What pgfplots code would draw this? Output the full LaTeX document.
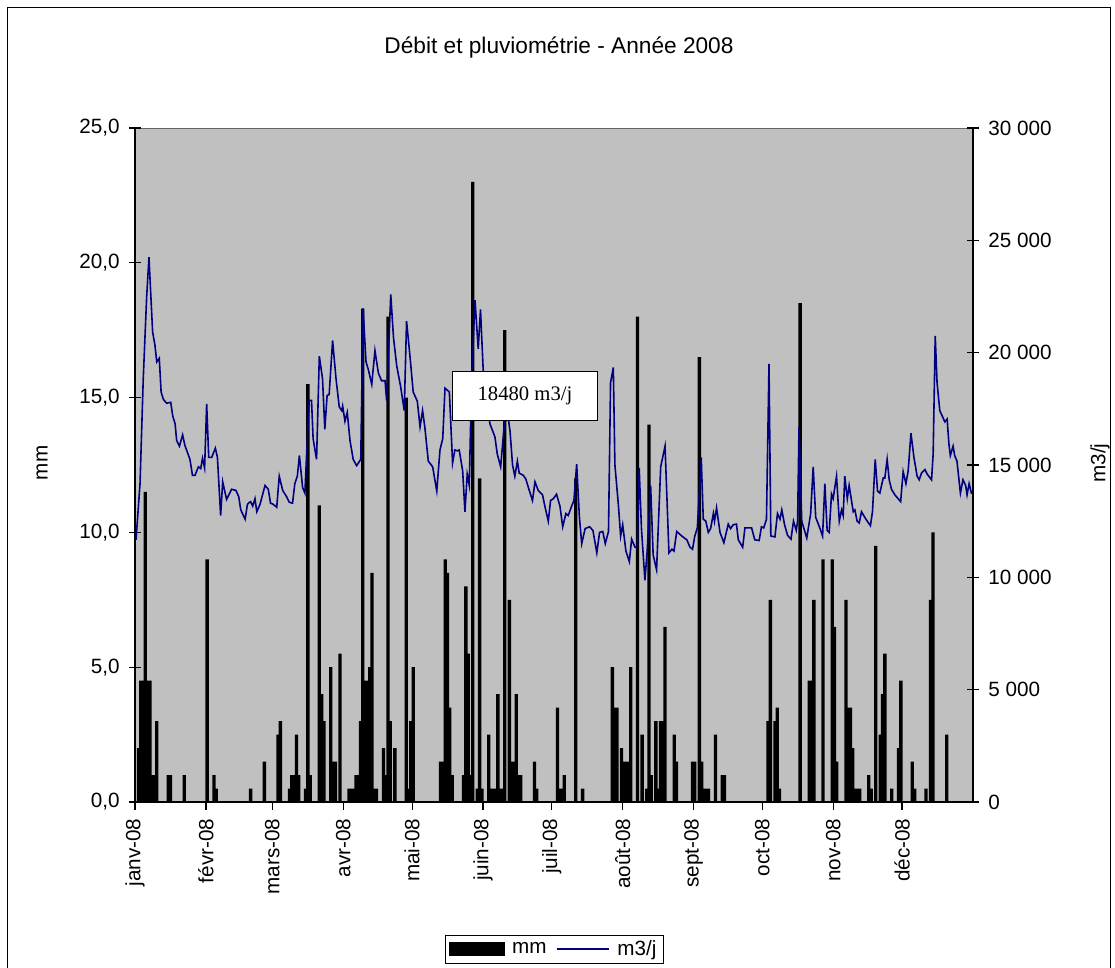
\documentclass[border=0pt]{standalone}
\usepackage{fontspec}
\setmainfont{Liberation Sans}
\newfontfamily\serifbox{Liberation Serif}
\usepackage{pgfplots}
\usepackage{pgfplotstable}
\pgfplotsset{compat=1.18}
\definecolor{plotgray}{RGB}{192,192,192}
\definecolor{navyline}{RGB}{0,0,128}
\newcommand{\tickfont}{\fontsize{15.5}{18}\selectfont}

\pgfplotstableread{
d mm
1.5 2.0
2.5 4.5
3.5 4.5
4.5 11.5
5.5 4.5
6.5 4.5
7.5 1.0
8.5 1.0
9.5 3.0
14.5 1.0
15.5 1.0
21.5 1.0
31.5 9.0
34.5 1.0
35.5 0.5
50.5 0.5
56.5 1.5
62.5 2.5
63.5 3.0
67.5 0.5
68.5 1.0
69.5 1.0
70.5 2.5
71.5 1.0
74.5 0.5
75.5 15.5
76.5 1.0
80.5 11.0
81.5 4.0
82.5 3.0
85.5 5.0
86.5 1.5
87.5 1.5
89.5 5.5
93.5 0.5
94.5 0.5
95.5 0.5
96.5 1.0
97.5 1.0
98.5 3.0
99.5 18.3
100.5 4.5
101.5 4.5
102.5 5.0
103.5 8.5
104.5 0.5
105.5 0.5
108.5 2.0
109.5 1.0
110.5 18.0
111.5 3.0
113.5 2.0
118.5 15.0
119.5 0.5
120.5 3.0
121.5 5.0
133.5 1.5
134.5 1.5
135.5 9.0
136.5 8.5
137.5 3.5
138.5 1.0
143.5 1.0
144.5 8.0
145.5 5.5
146.5 1.0
147.5 23.0
149.5 0.5
150.5 12.0
151.5 0.5
154.5 2.5
155.5 0.5
156.5 0.5
157.5 0.5
158.5 4.0
159.5 0.5
160.5 0.5
161.5 17.5
163.5 7.5
164.5 1.5
165.5 1.5
166.5 4.0
167.5 1.0
168.5 1.0
174.5 1.5
175.5 0.5
184.5 3.5
185.5 0.5
186.5 0.5
187.5 1.0
192.5 12.0
195.5 0.5
208.5 5.0
209.5 3.5
210.5 3.5
212.5 2.0
213.5 1.5
214.5 1.5
215.5 1.5
216.5 5.0
219.5 18.0
221.5 2.5
223.5 0.5
224.5 14.0
225.5 1.0
227.5 3.0
228.5 0.5
229.5 3.0
230.5 3.0
231.5 6.5
235.5 2.5
236.5 1.5
243.5 1.5
244.5 1.5
246.5 16.5
247.5 1.5
248.5 0.5
249.5 0.5
250.5 0.5
253.5 2.5
256.5 1.0
257.5 1.0
276.5 3.0
277.5 7.5
279.5 3.0
280.5 3.5
281.5 0.5
290.5 18.5
294.5 4.5
295.5 4.5
296.5 7.5
300.5 9.0
304.5 9.0
305.5 6.5
306.5 1.5
310.5 7.5
311.5 3.5
312.5 3.5
313.5 2.0
314.5 0.5
315.5 0.5
316.5 0.5
320.5 1.0
321.5 0.5
323.5 9.5
325.5 2.5
326.5 4.0
327.5 5.5
330.5 0.5
333.5 2.0
334.5 4.5
339.5 1.5
340.5 0.5
345.5 0.5
347.5 7.5
348.5 10.0
354.5 2.5
}\rain

\pgfplotstableread{
x q
0.44 11670
2.2 14170
3.6 18840
5.1 22500
6.1 24250
7.7 20920
8.7 20340
9.5 19590
10.6 19750
11.4 18250
12.4 17920
13.8 17750
15.6 17790
16.5 17170
17.5 16840
18.2 16090
19.4 15840
20.8 16340
21.8 15870
22.8 15590
24 15250
25.1 14540
26.2 14540
27.7 14920
28.7 14840
29.5 15300
30.4 14870
31.3 17720
32.2 15340
33.5 15340
35.1 15750
36 15340
37.4 12750
38.3 14250
40 13470
42.2 13920
44.1 13870
45.3 13590
46.2 13000
48.1 12590
49.1 13250
50 13340
50.5 13370
51.4 13170
52.4 13500
53.2 12920
54.6 13250
56.8 14090
58.2 13920
59.2 13300
60.4 13250
61.9 13120
63 14500
64.5 13870
66.2 13590
67.4 13340
68.8 13300
69.8 14170
70.9 14500
71.8 15420
73.2 14000
74.2 13750
75 15590
76.1 17870
77.1 17870
77.8 16170
79.3 15250
80.5 19840
81.9 18840
82.9 16590
83.9 18090
84.8 18140
86.3 20540
87.8 18840
89.2 17590
90.3 17420
90.7 17620
91.7 16950
92.7 17340
93.9 16090
95.3 15250
96.8 14970
98.6 15250
99.6 21970
100.9 19590
101.9 19250
103.4 18590
104.8 20090
106.3 19090
107.7 18750
109.2 18750
109.9 17870
111.7 22590
112.9 20670
114.3 19420
116 18500
117.6 17420
118.6 21400
120.1 19840
121.5 18250
123.3 17840
124.5 16700
125.6 17420
126.6 16670
128.1 15170
130 14920
131.8 13840
133.2 15670
134.4 16170
135.4 18420
137.3 18250
138.7 15090
139.7 15670
140.8 15630
141.6 15670
143.1 14750
144.1 12920
145.1 14590
146 14090
147 18840
148.5 22340
149.9 20170
150.9 21920
152.1 19170
155 16840
157.2 16250
158.2 15500
159.7 14920
161.1 16590
162.6 17420
163.8 16500
164.9 15000
165.9 14500
167 15170
167.8 14640
169.6 14540
170.7 14370
172.2 13870
173.6 13420
174.7 14250
176.1 13870
178 13670
179 13170
180.5 12500
181.5 13420
182.7 13500
184.1 13700
185.6 13170
186.8 12250
188.2 12840
189.2 12750
190.7 13170
191.7 13420
192.9 15040
194.1 12670
195.1 11500
196.6 12170
198.5 12250
200 12090
201.7 11090
202.9 12000
204.3 12040
205.4 11500
206.8 12040
207.7 18670
208.9 19340
209.6 15000
211.1 13250
212.1 11840
213 12340
214.4 11170
215.9 10700
216.9 11700
218.4 11340
219.4 11340
220.2 14870
221.2 12170
222.7 9870
223.7 11170
225.2 14090
226.3 11000
227.8 10340
229.6 14920
231.5 15840
233.2 11090
234.5 11250
235.4 11170
236.6 12040
238.8 11840
241 11670
242.4 11340
243.5 11250
244.5 11840
245.6 12200
247.3 15340
248.2 12590
249.3 12500
250.4 12000
251.4 12170
252.6 12840
253.1 12500
254 13090
255.5 12000
257.2 11540
259.1 12370
260.1 12170
261.3 12340
262.7 12370
263.5 11670
265.4 11340
266.4 12200
269.3 12200
270.7 11670
272.6 11640
273.6 12250
274.6 12200
275.8 12590
276.9 19500
277.7 11840
279.5 11800
280.6 12840
281.7 12590
282.5 13000
283.7 12340
285 11870
286.5 11700
287.6 12500
288.8 12090
289.4 12500
290 16700
291.2 12500
293.4 11750
295.1 12840
296.2 14920
297.3 12670
299.2 12170
300.3 11840
301.3 14170
302.3 12090
303.2 12000
304.2 13700
304.9 13500
306.4 14500
307.6 12500
308.6 13000
309.3 12750
310 14500
311.1 13500
311.9 14090
313.7 12920
314.4 13000
315.4 12500
316.3 12420
317.3 12920
319.2 12590
321.2 12300
322.1 12920
323.3 15250
324.3 13840
325.3 13750
326.8 14420
327.5 14420
328.5 15250
329.4 14340
330.4 13920
331.9 13670
333.3 13500
334.4 13370
335.5 14700
336.7 14170
337.7 14750
338.9 16420
340.2 15340
341.6 14500
342.5 14340
343.5 14640
345 14800
346 14590
347.9 14340
348.6 15500
349.5 20750
350.3 18670
351.5 17420
352.6 17170
353.7 16920
354.7 17040
355.5 15920
356.1 15420
357.3 15840
358 15420
359 15170
360.5 13750
361.6 14340
362.8 14090
363.4 13670
364.3 14170
365.3 13750
365.8 13750
}\flow

\begin{document}
\begin{tikzpicture}[x=0.75pt,y=0.75pt]
\useasboundingbox (0,0) rectangle (1115,968);
\fill[white] (0,0) rectangle (1115,968);
\draw[black, line width=1.2pt] (7.5,-20) -- (7.5,960.5) -- (1110.5,960.5) -- (1110.5,-20);
\node[font=\fontsize{17}{20}\selectfont] at (559,920) {Débit et pluviométrie - Année 2008};

\begin{axis}[
  at={(101.25pt,124.5pt)}, anchor=south west,
  width=628.5pt, height=505.5pt, scale only axis,
  xmin=0, xmax=366, ymin=0, ymax=25,
  axis y line*=left, axis x line*=bottom,
  axis background/.style={fill=plotgray, draw=black!60},
  axis line style={black, line width=0.8pt},
  xtick={0,31,60,91,121,152,182,213,244,274,305,335},
  xticklabels={janv-08,févr-08,mars-08,avr-08,mai-08,juin-08,juil-08,août-08,sept-08,oct-08,nov-08,déc-08},
  xticklabel style={font=\tickfont, rotate=90, anchor=east},
  ytick={0,5,10,15,20,25},
  yticklabel style={font=\tickfont, /pgf/number format/.cd, fixed, fixed zerofill, precision=1, use comma, assume math mode=true},
  yticklabel shift=3.5pt,
  xtick align=outside, ytick align=center,
  major tick length=9pt,
  xtick style={black, line width=0.8pt, /pgfplots/major tick length=6pt},
  ytick style={black, line width=0.8pt},
  clip=false,
]
\addplot[ybar, bar width=2.5pt, fill=black, draw=none] table[x=d, y=mm] {\rain};
\end{axis}

\begin{axis}[
  at={(101.25pt,124.5pt)}, anchor=south west,
  width=628.5pt, height=505.5pt, scale only axis,
  xmin=0, xmax=366, ymin=0, ymax=30000,
  axis y line*=right, axis x line=none,
  axis line style={black, line width=0.8pt},
  ytick={0,5000,10000,15000,20000,25000,30000},
  scaled y ticks=false,
  yticklabel style={font=\tickfont, /pgf/number format/.cd, fixed, precision=0, 1000 sep={\ }, assume math mode=true},
  yticklabel shift=3.5pt,
  ytick align=center, major tick length=9pt,
  tick style={black, line width=0.8pt},
  legend columns=2,
  legend style={at={(0.5,-0.2181)}, anchor=center, draw=black, fill=white, font=\tickfont, inner xsep=3pt, inner ysep=2pt, /tikz/every odd column/.append style={column sep=4pt}, /tikz/every even column/.append style={column sep=5pt}},
]
\addlegendimage{legend image code/.code={\fill[black] (0pt,-4.9pt) rectangle (41pt,4.9pt);}}
\addlegendentry{mm}
\addplot[navyline, line width=1.2pt, legend image code/.code={\draw[navyline, line width=1.2pt] (0pt,0pt) -- (39pt,0pt);}] table[x=x, y=q] {\flow};
\addlegendentry{m3/j}
\end{axis}

\node[draw=black, fill=white, line width=0.9pt, minimum width=108.75pt, minimum height=36.75pt, font=\serifbox\fontsize{15.5}{18}\selectfont] at (525,572) {18480 m3/j};
\node[rotate=90, font=\tickfont] at (42,505) {mm};
\node[rotate=90, font=\tickfont] at (1100,505) {m3/j};
\end{tikzpicture}
\end{document}
